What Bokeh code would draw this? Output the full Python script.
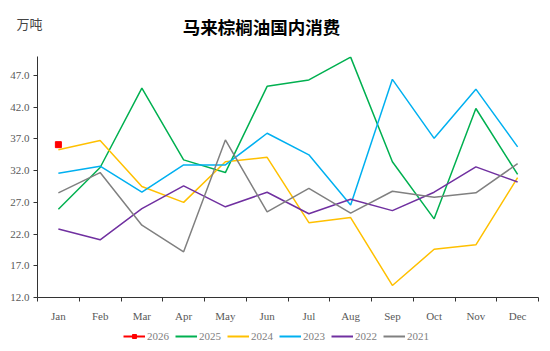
from bokeh.plotting import figure
from bokeh.layouts import column
from bokeh.models import FixedTicker, PrintfTickFormatter, Legend, LegendItem, Label, Range1d, LinearAxis
from bokeh.embed import file_html
from bokeh.resources import INLINE

months = ["Jan", "Feb", "Mar", "Apr", "May", "Jun", "Jul", "Aug", "Sep", "Oct", "Nov", "Dec"]
y2026 = [36.1]
y2025 = [25.9, 32.5, 45.0, 33.7, 31.7, 45.3, 46.3, 49.9, 33.4, 24.4, 41.8, 31.4]
y2024 = [35.3, 36.75, 29.5, 27.0, 33.4, 34.1, 23.8, 24.6, 13.9, 19.6, 20.3, 30.9]
y2023 = [31.6, 32.7, 28.6, 32.9, 32.9, 37.9, 34.5, 26.6, 46.4, 37.1, 44.85, 35.75]
y2022 = [22.8, 21.1, 26.0, 29.6, 26.3, 28.6, 25.2, 27.5, 25.7, 28.6, 32.6, 30.2]
y2021 = [28.5, 31.7, 23.4, 19.2, 36.85, 25.5, 29.2, 25.3, 28.75, 27.8, 28.5, 33.1]
y_ticks = [12, 17, 22, 27, 32, 37, 42, 47]
title_text = "马来棕榈油国内消费"
unit_text = "万吨"

series = [
    ("2026", y2026, "#FF0000"),
    ("2025", y2025, "#00B050"),
    ("2024", y2024, "#FFC000"),
    ("2023", y2023, "#00B0F0"),
    ("2022", y2022, "#7030A0"),
    ("2021", y2021, "#808080"),
]

FONT = "Liberation Serif"
W = 550
LEFT, RIGHT = 37, 12
HEAD_H = 56
HEAD_PAD = 10
MAIN_H = 268
FOOT_H = 351 - HEAD_H - MAIN_H
NAN = float("nan")


def bare(h, pad=0):
    # frames of plots in a column are aligned, so map data units 1:1 to canvas pixels
    f = figure(width=W, height=h, output_backend="svg", toolbar_location=None,
               x_range=Range1d(LEFT, W - RIGHT), y_range=Range1d(0, h - pad),
               x_axis_location=None, y_axis_location=None,
               min_border=0, min_border_left=LEFT, min_border_right=RIGHT,
               min_border_top=0, min_border_bottom=pad)
    f.grid.visible = False
    f.outline_line_color = None
    return f


# header
head = bare(HEAD_H, HEAD_PAD)
head.add_layout(Label(x=261, y=HEAD_H - HEAD_PAD - 26, text=title_text,
                      text_font="Noto Sans CJK SC", text_font_style="bold", text_font_size="17.5px",
                      text_color="#000000", text_align="center", text_baseline="middle"))
unit_axis = LinearAxis(ticker=FixedTicker(ticks=[]), axis_line_color=None,
                       major_tick_line_color=None, minor_tick_line_color=None,
                       axis_label=unit_text, axis_label_text_font="Noto Sans CJK SC",
                       axis_label_text_font_size="13px", axis_label_text_color="#444444",
                       axis_label_text_font_style="normal", axis_label_standoff=-5)
try:
    unit_axis.axis_label_orientation = "horizontal"
except Exception:
    pass
head.add_layout(unit_axis, "left")

# main chart
p = figure(width=W, height=MAIN_H, output_backend="svg", toolbar_location=None,
           x_range=Range1d(0, 12), y_range=Range1d(12, 50),
           min_border_left=LEFT, min_border_right=RIGHT, min_border_top=0, min_border_bottom=24)
p.outline_line_color = None
p.xgrid.visible = False
p.ygrid.visible = False

xs_all = [i + 0.5 for i in range(len(months))]

for name, ys, color in series:
    xs = xs_all[:len(ys)]
    p.line(xs, ys, line_color=color, line_width=1.5)
    if name == "2026":
        p.scatter(xs, ys, marker="square", size=6, fill_color=color, line_color=color)

p.xaxis.ticker = FixedTicker(ticks=xs_all, minor_ticks=list(range(13)))
p.xaxis.major_label_overrides = {x: m for x, m in zip(xs_all, months)}
p.xaxis.major_tick_line_color = None
p.xaxis.minor_tick_in = 0
p.xaxis.minor_tick_out = 4
p.xaxis.minor_tick_line_color = "#333333"
p.xaxis.axis_line_color = "#333333"
p.xaxis.major_label_text_font = FONT
p.xaxis.major_label_text_font_size = "11px"
p.xaxis.major_label_text_color = "#595959"
p.xaxis.major_label_standoff = 6

p.yaxis.ticker = FixedTicker(ticks=y_ticks, minor_ticks=[])
p.yaxis.formatter = PrintfTickFormatter(format="%.1f")
p.yaxis.major_tick_in = 0
p.yaxis.major_tick_out = 4
p.yaxis.major_tick_line_color = "#333333"
p.yaxis.axis_line_color = "#333333"
p.yaxis.major_label_text_font = FONT
p.yaxis.major_label_text_font_size = "11px"
p.yaxis.major_label_text_color = "#595959"
p.yaxis.major_label_standoff = 4

# footer legend
foot = bare(FOOT_H)
items = []
for name, ys, color in series:
    rs = [foot.line([NAN, NAN], [NAN, NAN], line_color=color, line_width=2)]
    if name == "2026":
        rs.append(foot.scatter([NAN], [NAN], marker="square", size=6, fill_color=color, line_color=color))
    items.append(LegendItem(label=name, renderers=rs))

legend = Legend(items=items, orientation="horizontal", location=(86, 9),
                label_text_font=FONT, label_text_font_size="11px", label_text_color="#808080",
                glyph_width=22, glyph_height=10, spacing=6, label_standoff=2,
                border_line_color=None, background_fill_alpha=0, padding=0, margin=0)
foot.add_layout(legend)

layout = column(head, p, foot, spacing=0)
open("out.html", "w").write(file_html(layout, INLINE))
